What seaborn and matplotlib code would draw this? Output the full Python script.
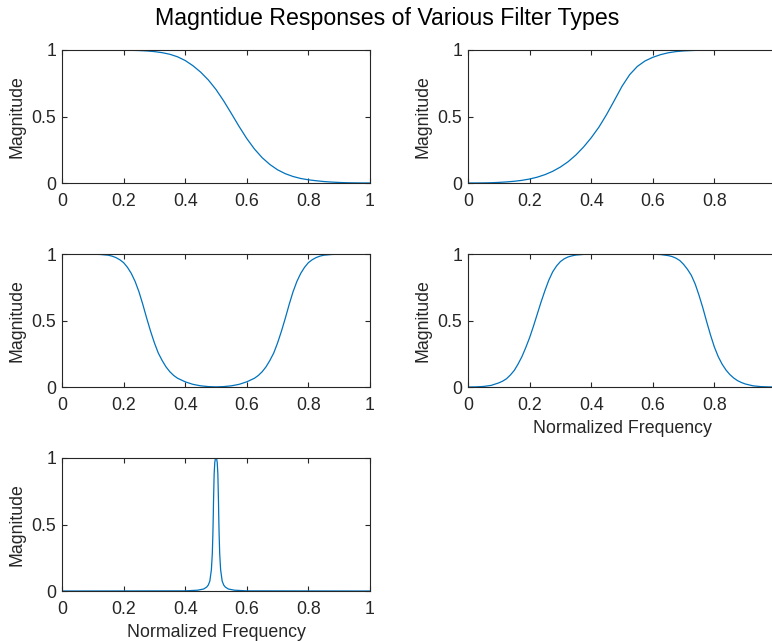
import pandas as pd
import matplotlib.pyplot as plt
import seaborn as sns

# 读数：各滤波器幅频响应
lowpass_f = [0, 0.1, 0.15, 0.2, 0.25, 0.275, 0.3, 0.325, 0.35, 0.375, 0.4, 0.425, 0.45, 0.475,
             0.5, 0.525, 0.55, 0.575, 0.6, 0.625, 0.65, 0.675, 0.7, 0.725, 0.75, 0.775, 0.8,
             0.825, 0.85, 0.875, 0.9, 0.925, 0.95, 0.975, 1.0]
lowpass_m = [1, 1, 0.9995, 0.999, 0.996, 0.993, 0.988, 0.98, 0.968, 0.949, 0.921, 0.882, 0.834,
             0.775, 0.703, 0.617, 0.522, 0.425, 0.334, 0.255, 0.19, 0.139, 0.099, 0.07, 0.049,
             0.034, 0.024, 0.017, 0.011, 0.007, 0.004, 0.002, 0.001, 0.0003, 0]

highpass_f = [0, 0.025, 0.05, 0.075, 0.1, 0.125, 0.15, 0.175, 0.2, 0.225, 0.25, 0.275, 0.3,
              0.325, 0.35, 0.375, 0.4, 0.425, 0.45, 0.475, 0.5, 0.525, 0.55, 0.575, 0.6, 0.625,
              0.65, 0.675, 0.7, 0.725, 0.75, 0.8, 0.85, 1.0]
highpass_m = [0, 0.0002, 0.0008, 0.002, 0.0045, 0.008, 0.013, 0.02, 0.03, 0.044, 0.063, 0.088,
              0.12, 0.16, 0.21, 0.27, 0.34, 0.42, 0.515, 0.62, 0.727, 0.815, 0.877, 0.918, 0.945,
              0.965, 0.979, 0.988, 0.993, 0.996, 0.998, 0.9995, 1, 1]

bandstop_f = [0, 0.05, 0.1, 0.125, 0.15, 0.1625, 0.175, 0.1875, 0.2, 0.2125, 0.225, 0.2375,
              0.25, 0.2625, 0.275, 0.2875, 0.3, 0.3125, 0.325, 0.3375, 0.35, 0.3625, 0.375,
              0.4, 0.425, 0.45, 0.475, 0.5, 0.525, 0.55, 0.575, 0.6, 0.625, 0.6375, 0.65,
              0.6625, 0.675, 0.6875, 0.7, 0.7125, 0.725, 0.7375, 0.75, 0.7625, 0.775, 0.7875,
              0.8, 0.8125, 0.825, 0.8375, 0.85, 0.875, 0.9, 0.95, 1.0]
bandstop_m = [1, 1, 0.9988, 0.9963, 0.991, 0.984, 0.973, 0.957, 0.935, 0.90, 0.854, 0.793,
              0.715, 0.62, 0.517, 0.42, 0.332, 0.256, 0.20, 0.152, 0.115, 0.087, 0.066,
              0.039, 0.02, 0.009, 0.003, 0.001, 0.003, 0.009, 0.02, 0.039, 0.066, 0.087, 0.115,
              0.152, 0.20, 0.256, 0.332, 0.42, 0.517, 0.62, 0.715, 0.793, 0.854, 0.90,
              0.935, 0.957, 0.973, 0.984, 0.991, 0.9963, 0.9988, 1, 1]

bandpass_f = [0, 0.025, 0.05, 0.075, 0.1, 0.1125, 0.125, 0.1375, 0.15, 0.1625, 0.175, 0.1875,
              0.2, 0.2125, 0.225, 0.2375, 0.25, 0.2625, 0.275, 0.2875, 0.3, 0.3125, 0.325,
              0.3375, 0.35, 0.375, 0.4, 0.45, 0.5, 0.55, 0.6, 0.625, 0.65, 0.6625, 0.675,
              0.6875, 0.7, 0.7125, 0.725, 0.7375, 0.75, 0.7625, 0.775, 0.7875, 0.8, 0.8125,
              0.825, 0.8375, 0.85, 0.8625, 0.875, 0.8875, 0.9, 0.925, 0.95, 0.975, 1.0]
bandpass_m = [0, 0.001, 0.004, 0.012, 0.031, 0.044, 0.062, 0.09, 0.124, 0.172, 0.228, 0.296,
              0.371, 0.457, 0.549, 0.641, 0.726, 0.804, 0.866, 0.91, 0.943, 0.964, 0.978,
              0.986, 0.992, 0.997, 0.9988, 0.9998, 1, 1, 0.9985, 0.996, 0.988, 0.981, 0.969,
              0.951, 0.922, 0.885, 0.84, 0.775, 0.69, 0.595, 0.49, 0.39, 0.30, 0.228,
              0.172, 0.128, 0.094, 0.068, 0.048, 0.034, 0.023, 0.009, 0.003, 0.0008, 0]

narrow_f = [0, 0.4, 0.44, 0.46, 0.47, 0.475, 0.48, 0.485, 0.488, 0.49, 0.491, 0.492, 0.494,
            0.496, 0.498, 0.5, 0.502, 0.504, 0.506, 0.508, 0.509, 0.51, 0.512, 0.515, 0.52,
            0.525, 0.53, 0.54, 0.56, 0.6, 1.0]
narrow_m = [0, 0.001, 0.006, 0.015, 0.03, 0.045, 0.075, 0.16, 0.28, 0.44, 0.55, 0.68, 0.88,
            0.965, 0.995, 1.0, 0.995, 0.965, 0.88, 0.68, 0.55, 0.44, 0.28, 0.16, 0.075,
            0.045, 0.03, 0.015, 0.006, 0.001, 0]

x_ticks = [0, 0.2, 0.4, 0.6, 0.8, 1.0]
x_labels = ['0', '0.2', '0.4', '0.6', '0.8', '1']
y_ticks = [0, 0.5, 1.0]
y_labels = ['0', '0.5', '1']

sns.set_style('ticks', rc={
    'axes.edgecolor': '#262626',
    'axes.linewidth': 0.8,
    'xtick.direction': 'in',
    'ytick.direction': 'in',
    'xtick.top': True,
    'ytick.right': True,
    'xtick.color': '#262626',
    'ytick.color': '#262626',
    'xtick.major.size': 3,
    'ytick.major.size': 3,
    'xtick.major.width': 0.8,
    'ytick.major.width': 0.8,
})
plt.rcParams['font.family'] = ['Liberation Sans', 'DejaVu Sans']

fig = plt.figure(figsize=(7.72, 6.41), dpi=100)
W, H = 772.0, 641.0

panels = [
    (lowpass_f, lowpass_m, 62, 183, False, True),
    (highpass_f, highpass_m, 468, 183, False, False),
    (bandstop_f, bandstop_m, 62, 387, False, True),
    (bandpass_f, bandpass_m, 468, 387, True, False),
    (narrow_f, narrow_m, 62, 591, True, True),
]

for f, m, left, bottom, xlab, full in panels:
    ax = fig.add_axes([left / W, 1 - bottom / H, 308 / W, 133 / H])
    df = pd.DataFrame({'f': f, 'm': m})
    sns.lineplot(data=df, x='f', y='m', ax=ax, color='#0072BD', linewidth=0.9)
    ax.set_xlim(0, 1)
    ax.set_ylim(0, 1)
    if full:
        ax.set_xticks(x_ticks)
        ax.set_xticklabels(x_labels)
    else:
        # 右列在原图中被裁掉了右边框和 1 的刻度标签
        ax.set_xticks(x_ticks[:-1])
        ax.set_xticklabels(x_labels[:-1])
        ax.tick_params(axis='y', right=False)
    ax.set_yticks(y_ticks)
    ax.set_yticklabels(y_labels)
    ax.tick_params(axis='x', labelsize=12.8, pad=7)
    ax.tick_params(axis='y', labelsize=12.8, pad=4)
    ax.set_ylabel('Magnitude', fontsize=12.8, color='#262626')
    ax.yaxis.set_label_coords(-0.117, 0.5)
    if xlab:
        ax.set_xlabel('Normalized Frequency', fontsize=12.8, color='#262626')
        ax.xaxis.set_label_coords(0.5, -0.245)
    else:
        ax.set_xlabel('')

fig.text(0.502, 1 - 18 / H, 'Magntidue Responses of Various Filter Types',
         ha='center', va='center', fontsize=16.7, color='black')

fig.savefig('out.png', dpi=100)
plt.close(fig)
